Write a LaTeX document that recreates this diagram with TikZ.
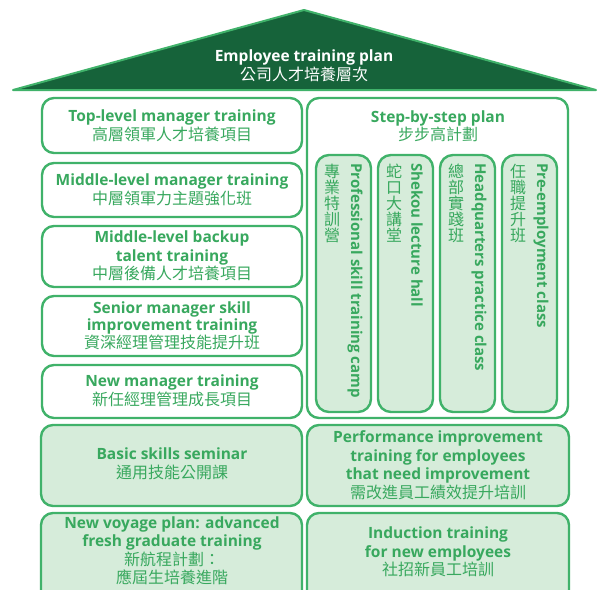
\documentclass[tikz,border=0pt]{standalone}
\usepackage{fontspec}
\setmainfont{Open Sans}
\newfontfamily\cjk{Noto Sans CJK TC}
\definecolor{gline}{RGB}{64,178,106}
\definecolor{gtext}{RGB}{56,168,94}
\definecolor{gfill}{RGB}{214,236,218}
\definecolor{groof}{RGB}{22,99,58}
\tikzset{
  box/.style={draw=gline, line width=2.4pt, rounded corners=12pt},
  fbox/.style={box, fill=gfill},
  lbl/.style={text=gtext, font=\bfseries\fontsize{15.5}{18.5}\selectfont, align=center, inner sep=0pt},
  vcn/.style={text=gtext, font=\cjk\fontsize{16}{16}\selectfont, align=center, inner sep=0pt, anchor=north},
  ven/.style={text=gtext, font=\bfseries\fontsize{15}{16}\selectfont, rotate=-90, anchor=west, inner sep=0pt},
}
\newcommand{\zh}[1]{{\cjk\fontsize{16}{18.5}\selectfont\mdseries #1}}
\begin{document}
\begin{tikzpicture}[x=1pt,y=-1pt]
\useasboundingbox (0,0) rectangle (601,589);
\clip (0,0) rectangle (601,589);
% roof
\draw[fill=groof, draw=gline, line width=2pt, line join=round] (13,90) -- (304,10) -- (596,90) -- cycle;
\node[lbl, text=white] (roof) at (304,66) {Employee training plan\\\zh{公司人才培養層次}};
% left column
\draw[box] (42,98) rectangle (302,153);
\node[lbl] (b1) at (172,126) {Top-level manager training\\\zh{高層領軍人才培養項目}};
\draw[box] (42,163) rectangle (302,217);
\node[lbl] (b2) at (172,190) {Middle-level manager training\\\zh{中層領軍力主題強化班}};
\draw[box] (42,226) rectangle (302,287);
\node[lbl] (b3) at (172,256) {Middle-level backup\\talent training\\\zh{中層後備人才培養項目}};
\draw[box] (42,296) rectangle (302,356);
\node[lbl, font=\bfseries\fontsize{15.5}{16.5}\selectfont] (b4) at (172,326) {Senior manager skill\\improvement training\\\zh{資深經理管理技能提升班}};
\draw[box] (42,365) rectangle (302,418);
\node[lbl] (b5) at (172,391) {New manager training\\\zh{新任經理管理成長項目}};
\draw[fbox] (41,425) rectangle (302,506);
\node[lbl] (b6) at (172,464) {Basic skills seminar\\\zh{通用技能公開課}};
\draw[fbox] (41,513) rectangle (302,610);
\node[lbl] (b7) at (172,551) {New voyage plan: advanced\\fresh graduate training\\\zh{新航程計劃：}\\\zh{應屆生培養進階}};
% right column
\draw[box] (307,98) rectangle (568,418);
\node[lbl] (sp) at (438,126) {Step-by-step plan\\\zh{步步高計劃}};
\foreach \x/\n/\c/\e in {316/c1/專\\業\\特\\訓\\營/Professional skill training camp,
                        378/c2/蛇\\口\\大\\講\\堂/Shekou lecture hall,
                        440/c3/總\\部\\實\\踐\\班/Headquarters practice class,
                        502/c4/任\\職\\提\\升\\班/Pre-employment class}{
  \draw[fbox, rounded corners=13pt] (\x,155) rectangle ({\x+55},412);
  \node[vcn] (\n z) at ({\x+16},164) {\c};
  \node[ven] (\n e) at ({\x+39},163) {\e};
}
\draw[fbox] (307,425) rectangle (569,506);
\node[lbl] (b8) at (438,465) {Performance improvement\\training for employees\\that need improvement\\\zh{需改進員工績效提升培訓}};
\draw[fbox] (307,513) rectangle (569,610);
\node[lbl] (b9) at (438,552) {Induction training\\for new employees\\\zh{社招新員工培訓}};
\end{tikzpicture}
\end{document}
